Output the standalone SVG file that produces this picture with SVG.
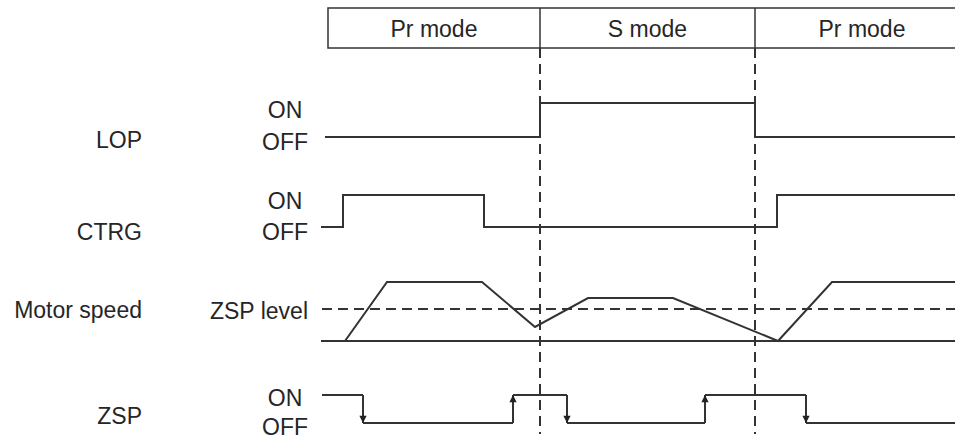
<svg xmlns="http://www.w3.org/2000/svg" width="955" height="439" viewBox="0 0 955 439">
  <style>
    text { font-family: "Liberation Sans", Arial, sans-serif; font-size: 23px; fill: #262626; }
    .lbl { text-anchor: end; }
    .st { text-anchor: middle; }
    .hd { text-anchor: middle; }
    .sig { fill: none; stroke: #333; stroke-width: 2; stroke-linejoin: miter; }
    .dash { fill: none; stroke: #333; stroke-width: 2; stroke-dasharray: 10 6; }
    .box { fill: #fff; stroke: #333; stroke-width: 1.5; }
  </style>
  <defs>
    <marker id="arr" viewBox="0 0 8 10" refX="8" refY="5" markerWidth="8" markerHeight="9" markerUnits="userSpaceOnUse" orient="auto">
      <path d="M0,1 L8,5 L0,9 Z" fill="#222"/>
    </marker>
  </defs>
  <rect width="955" height="439" fill="#fff"/>

  <g id="header">
    <rect class="box" x="328" y="8" width="650" height="40"/>
    <line x1="540" y1="8" x2="540" y2="48" stroke="#333" stroke-width="1.5"/>
    <line x1="755" y1="8" x2="755" y2="48" stroke="#333" stroke-width="1.5"/>
    <text class="hd" x="434" y="37">Pr mode</text>
    <text class="hd" x="647.5" y="37">S mode</text>
    <text class="hd" x="862" y="37">Pr mode</text>
  </g>

  <g id="mode-boundaries">
    <line class="dash" x1="540" y1="48" x2="540" y2="434"/>
    <line class="dash" x1="755" y1="48" x2="755" y2="434"/>
  </g>

  <g id="lop">
    <text class="lbl" x="142" y="148">LOP</text>
    <text class="st" x="285" y="118">ON</text>
    <text class="st" x="285" y="150">OFF</text>
    <polyline class="sig" points="325,137 540,137 540,103 755,103 755,137 955,137"/>
  </g>

  <g id="ctrg">
    <text class="lbl" x="142" y="240">CTRG</text>
    <text class="st" x="285" y="209">ON</text>
    <text class="st" x="285" y="240">OFF</text>
    <polyline class="sig" points="321,227 343,227 343,195 484,195 484,227 777,227 777,195 955,195"/>
  </g>

  <g id="motor-speed">
    <text class="lbl" x="142" y="318">Motor speed</text>
    <text class="lbl" x="308" y="319">ZSP level</text>
    <line class="dash" x1="322" y1="309" x2="955" y2="309"/>
    <line class="sig" x1="321" y1="341" x2="955" y2="341"/>
    <polyline class="sig" points="345,341 387,282 482,282 535,327 588,298 673,298 778,341 832,282 955,282"/>
  </g>

  <g id="zsp">
    <text class="lbl" x="142" y="424">ZSP</text>
    <text class="st" x="285" y="406">ON</text>
    <text class="st" x="285" y="435">OFF</text>
    <polyline class="sig" points="322,395 363,395"/>
    <polyline class="sig" points="363,423 513,423"/>
    <polyline class="sig" points="513,395 567,395"/>
    <polyline class="sig" points="567,423 705,423"/>
    <polyline class="sig" points="705,395 806,395"/>
    <polyline class="sig" points="806,423 955,423"/>
  </g>

  <g id="connectors">
    <line class="sig" x1="363" y1="395" x2="363" y2="423" marker-end="url(#arr)"/>
    <line class="sig" x1="513" y1="423" x2="513" y2="395" marker-end="url(#arr)"/>
    <line class="sig" x1="567" y1="395" x2="567" y2="423" marker-end="url(#arr)"/>
    <line class="sig" x1="705" y1="423" x2="705" y2="395" marker-end="url(#arr)"/>
    <line class="sig" x1="806" y1="395" x2="806" y2="423" marker-end="url(#arr)"/>
  </g>
</svg>
